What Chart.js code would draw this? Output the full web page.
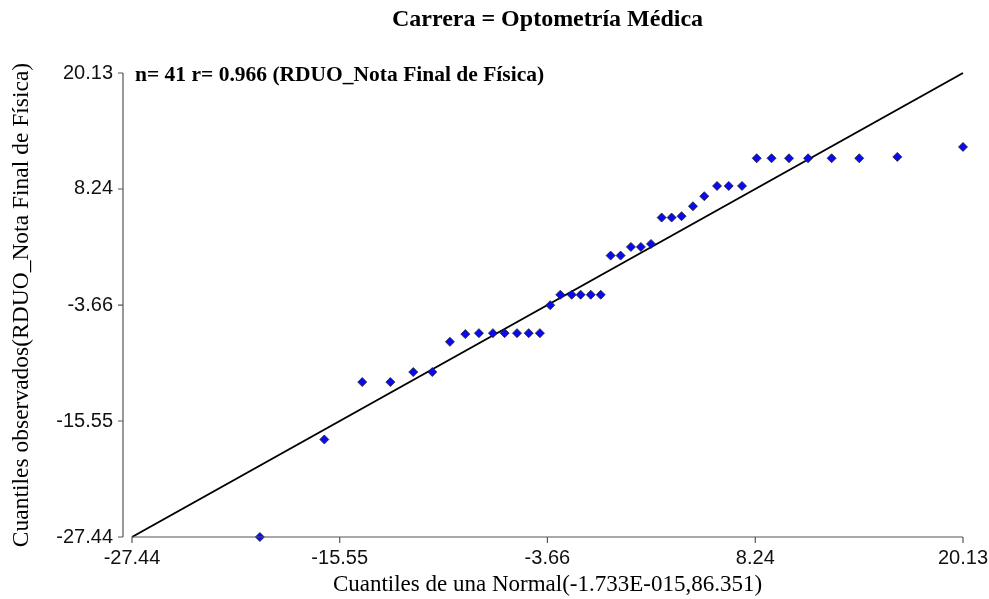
<!DOCTYPE html>
<html>
<head>
<meta charset="utf-8">
<script src="https://cdn.jsdelivr.net/npm/chart.js@4.4.1/dist/chart.umd.min.js"></script>
<style>
  body { margin: 0; background: #fff; }
  canvas { display: block; }
</style>
</head>
<body>
<canvas id="qq" width="989" height="599"></canvas>
<script>
// Cuantiles teóricos (normal) y observados
const quantilesNormal = [-20.12, -16.43, -14.26, -12.65, -11.34, -10.25, -9.24, -8.36, -7.58, -6.78,
    -6.11, -5.40, -4.73, -4.09, -3.50, -2.92, -2.27, -1.76, -1.18, -0.61,
    -0.04, 0.53, 1.12, 1.69, 2.27, 2.88, 3.45, 4.02, 4.67, 5.32,
    6.05, 6.72, 7.48, 8.32, 9.17, 10.17, 11.26, 12.61, 14.19, 16.37, 20.13];
const quantilesObs = [-27.44, -17.44, -11.56, -11.56, -10.53, -10.53, -7.43, -6.64, -6.54, -6.54,
    -6.54, -6.54, -6.54, -6.54, -3.67, -2.60, -2.60, -2.60, -2.60, -2.60,
    1.41, 1.41, 2.30, 2.30, 2.61, 5.31, 5.31, 5.45, 6.47, 7.50,
    8.55, 8.55, 8.55, 11.39, 11.39, 11.39, 11.39, 11.39, 11.39, 11.53, 12.55];
// recta de referencia y = x
const refLineX = [-27.44, 20.13];
const tickValues = [-27.44, -15.55, -3.66, 8.24, 20.13];

const titulo = 'Carrera = Optometría Médica';
const leyenda = 'n= 41 r= 0.966 (RDUO_Nota Final de Física)';

const serif = '"Liberation Serif", "Times New Roman", serif';
const sans = '"Liberation Sans", Arial, sans-serif';

// ejes con separación entre el eje Y y el eje X, con marcas
const axesPlugin = {
    id: 'axes',
    afterDatasetsDraw(chart) {
        const ctx = chart.ctx;
        const xs = chart.scales.x, ys = chart.scales.y;
        const area = chart.chartArea;
        ctx.save();
        ctx.strokeStyle = '#555';
        ctx.lineWidth = 1.2;
        // eje Y
        const yx = area.left - 9;
        ctx.beginPath();
        ctx.moveTo(yx, ys.getPixelForValue(tickValues[tickValues.length - 1]));
        ctx.lineTo(yx, ys.getPixelForValue(tickValues[0]));
        tickValues.forEach(v => {
            const p = ys.getPixelForValue(v);
            ctx.moveTo(yx - 5, p);
            ctx.lineTo(yx, p);
        });
        ctx.stroke();
        // eje X
        const xy = area.bottom;
        ctx.beginPath();
        ctx.moveTo(xs.getPixelForValue(tickValues[0]), xy);
        ctx.lineTo(xs.getPixelForValue(tickValues[tickValues.length - 1]), xy);
        tickValues.forEach(v => {
            const p = xs.getPixelForValue(v);
            ctx.moveTo(p, xy);
            ctx.lineTo(p, xy + 6);
        });
        ctx.stroke();
        ctx.restore();
    },
    afterDraw(chart) {
        const ctx = chart.ctx;
        const area = chart.chartArea;
        ctx.save();
        ctx.fillStyle = '#000';
        ctx.textBaseline = 'middle';
        ctx.font = 'bold 24px ' + serif;
        ctx.textAlign = 'center';
        ctx.fillText(titulo, (area.left + area.right) / 2, 20);
        ctx.font = 'bold 21.5px ' + serif;
        ctx.textAlign = 'left';
        ctx.fillText(leyenda, area.left + 3, area.top + 2);
        ctx.restore();
    }
};

new Chart(document.getElementById('qq'), {
    type: 'scatter',
    data: {
        datasets: [
            {
                label: 'Observados',
                data: quantilesNormal.map((x, i) => ({ x: x, y: quantilesObs[i] })),
                pointStyle: 'rectRot',
                pointRadius: 4.5,
                pointBackgroundColor: '#0a0af0',
                pointBorderColor: '#222',
                pointBorderWidth: 0.8,
                clip: false
            },
            {
                type: 'line',
                label: 'Recta',
                data: refLineX.map(v => ({ x: v, y: v })),
                borderColor: '#000',
                borderWidth: 2,
                pointRadius: 0,
                clip: false
            }
        ]
    },
    options: {
        responsive: false,
        animation: false,
        layout: { padding: { top: 73, right: 26, left: 0, bottom: 0 } },
        plugins: {
            legend: { display: false },
            tooltip: { enabled: false }
        },
        scales: {
            x: {
                type: 'linear',
                min: -27.44,
                max: 20.13,
                afterBuildTicks: s => { s.ticks = tickValues.map(v => ({ value: v })); },
                afterFit: s => { s.height = 62; s.paddingLeft = 0; s.paddingRight = 0; },
                grid: { display: false, drawTicks: false },
                border: { display: false },
                ticks: {
                    padding: 9,
                    color: '#111',
                    font: { family: sans, size: 20 },
                    maxRotation: 0,
                    callback: v => v.toFixed(2)
                },
                title: {
                    display: true,
                    text: 'Cuantiles de una Normal(-1.733E-015,86.351)',
                    color: '#000',
                    font: { family: serif, size: 23 },
                    padding: { top: 0, bottom: 0 }
                }
            },
            y: {
                type: 'linear',
                min: -27.44,
                max: 20.13,
                afterBuildTicks: s => { s.ticks = tickValues.map(v => ({ value: v })); },
                afterFit: s => { s.width = 132; s.paddingTop = 0; s.paddingBottom = 0; },
                grid: { display: false, drawTicks: false },
                border: { display: false },
                ticks: {
                    padding: 19,
                    color: '#111',
                    font: { family: sans, size: 20 },
                    callback: v => v.toFixed(2)
                },
                title: {
                    display: true,
                    text: 'Cuantiles observados(RDUO_Nota Final de Física)',
                    color: '#000',
                    font: { family: serif, size: 23.5 },
                    padding: { top: 8, bottom: 0 }
                }
            }
        }
    },
    plugins: [axesPlugin]
});
</script>
</body>
</html>
